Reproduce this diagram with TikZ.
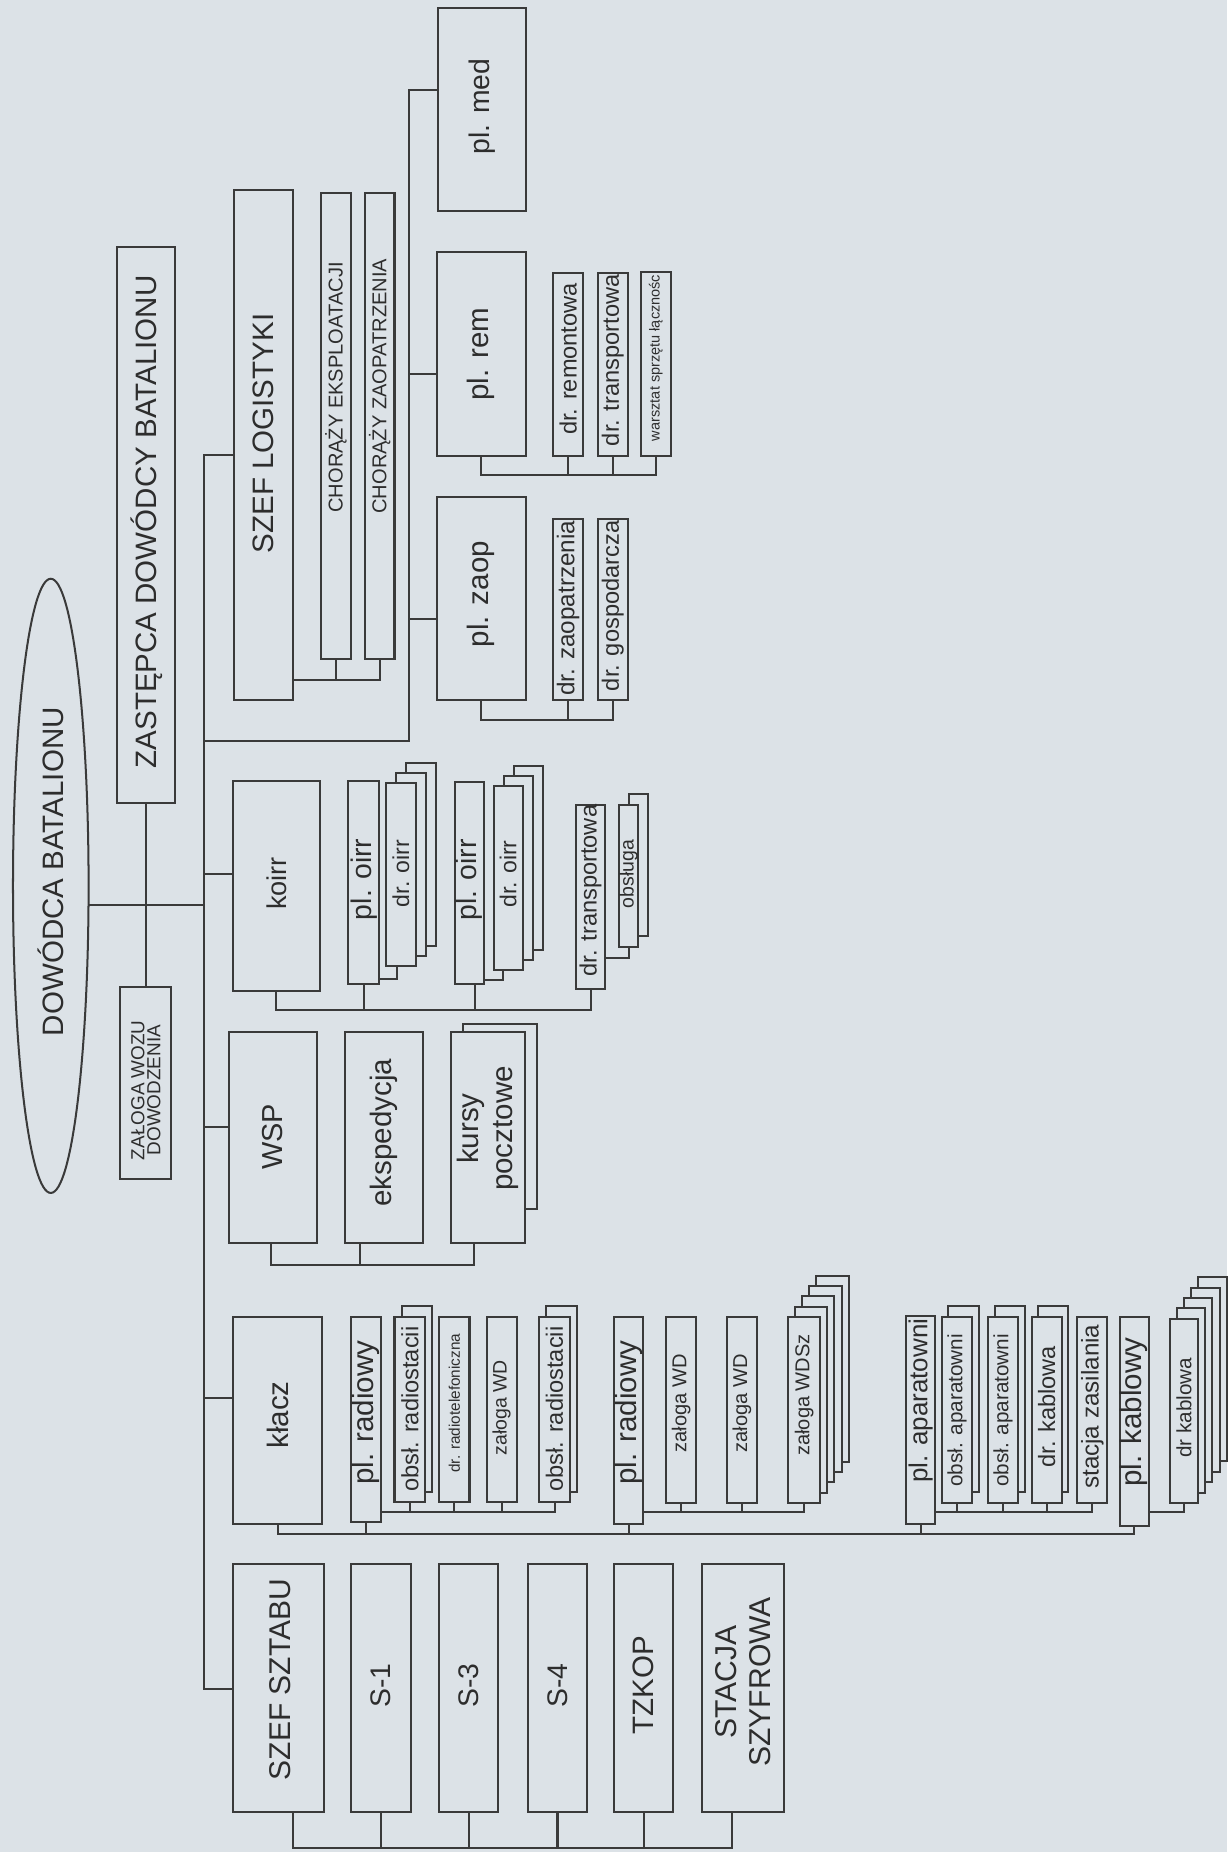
\documentclass[tikz,border=0pt]{standalone}
\usepackage{fontspec}
\setmainfont{Liberation Sans}
\usetikzlibrary{shapes.geometric}
\definecolor{bg}{RGB}{220,226,231}
\definecolor{ink}{RGB}{58,58,58}
\definecolor{txt}{RGB}{45,45,45}
\tikzset{
  ln/.style={draw=ink,line width=1.7pt,line cap=rect},
  bx/.style={draw=ink,line width=1.7pt,fill=bg,rectangle,inner sep=0pt,outer sep=0pt},
  bxl/.style={draw=ink,line width=1.7pt,fill=bg},
  tx/.style={text=txt,inner sep=0pt,align=center},
  ellbox/.style={draw=ink,line width=1.7pt,ellipse,inner sep=0pt,outer sep=0pt}
}
\newcommand\obox[5]{\node[bx, minimum width={(#4)-(#2)}, minimum height={(#5)-(#3)}] (#1) at ({((#2)+(#4))/2},{((#3)+(#5))/2}) {};}
\newcommand\otx[6]{\node[tx, rotate=90, font=\fontsize{#4}{#5}\selectfont] (#1) at (#2,#3) {#6};}
\newcommand\ostk[8]{%
  \foreach \k in {#6,...,1}{\draw[bxl] ({(#2)+\k*(#7)},{(#3)-\k*(#8)}) rectangle ({(#4)+\k*(#7)},{(#5)-\k*(#8)});}
  \obox{#1}{#2}{#3}{#4}{#5}}
\begin{document}
\begin{tikzpicture}[x=1pt,y=-1pt]
\fill[bg] (0,0) rectangle (1039,1568);
\useasboundingbox (0,0) rectangle (1039,1568);

% ---- top level
\node[ellbox, minimum width=64, minimum height=520] (ell) at (43,750) {};
\otx{t-ell}{43}{738}{25}{30}{DOWÓDCA BATALIONU}
\obox{zast}{99}{209}{148}{680}
\otx{t-zast}{124}{442}{25}{30}{ZASTĘPCA DOWÓDCY BATALIONU}
\obox{zalo}{102}{836}{145}{998}
\otx{t-zalo}{123.5}{923}{16}{13.5}{ZAŁOGA WOZU\\DOWODZENIA}

% ---- logistics
\obox{szeflog}{198}{161}{248}{593}
\otx{t-szeflog}{223}{367}{25}{30}{SZEF LOGISTYKI}
\obox{chore}{272}{163}{297}{558}
\otx{t-chore}{284.5}{328}{17}{20}{CHORĄŻY EKSPLOATACJI}
\obox{chorz}{309}{163}{334}{558}
\otx{t-chorz}{321.5}{327}{17}{20}{CHORĄŻY ZAOPATRZENIA}
\obox{plmed}{371}{7}{445}{179}
\otx{t-plmed}{408}{90}{24}{28}{pl. med}
\obox{plrem}{370}{213}{445}{386}
\otx{t-plrem}{407.5}{300}{25}{30}{pl. rem}
\obox{plzaop}{370}{421}{445}{593}
\otx{t-plzaop}{407.5}{503}{25}{30}{pl. zaop}
\obox{drrem}{468.5}{231}{493.5}{386}
\otx{t-drrem}{481}{304}{20}{24}{dr. remontowa}
\obox{drtra}{506}{231}{531.5}{386}
\otx{t-drtra}{518.75}{305}{20}{24}{dr. transportowa}
\obox{warsz}{542.5}{230}{568}{386}
\otx{t-warsz}{555.25}{303}{12.3}{15}{warsztat sprzętu łącznośc}
\obox{drzaop}{468.5}{439}{493.5}{593}
\otx{t-drzaop}{481}{515}{20.5}{24}{dr. zaopatrzenia}
\obox{drgosp}{506}{439}{531.5}{593}
\otx{t-drgosp}{518.75}{513}{20}{24}{dr. gospodarcza}

% ---- koirr
\obox{koirr}{197}{661}{271}{839}
\otx{t-koirr}{234}{748}{23}{28}{koirr}
\obox{poirr1}{295}{661}{321}{833.5}
\otx{t-poirr1}{308}{744.5}{24}{28}{pl. oirr}
\ostk{droirr1}{327}{663}{352}{818}{2}{8.5}{8.5}
\otx{t-droirr1}{339.5}{739.5}{19.5}{24}{dr. oirr}
\obox{poirr2}{385}{662}{410}{833.5}
\otx{t-poirr2}{397.5}{745}{24}{28}{pl. oirr}
\ostk{droirr2}{418}{665.5}{442.5}{821}{2}{8.5}{8.5}
\otx{t-droirr2}{430.25}{740}{19.5}{24}{dr. oirr}
\obox{drtrk}{487.5}{681.5}{512.5}{837}
\otx{t-drtrk}{500}{754}{20}{24}{dr. transportowa}
\ostk{obsl}{524}{681.5}{540.5}{801.5}{1}{8.2}{9}
\otx{t-obsl}{532.25}{740}{16.5}{20}{obsługa}

% ---- WSP
\obox{wsp}{193.5}{874}{268}{1052}
\otx{t-wsp}{231}{962.5}{24.5}{28}{WSP}
\obox{eksp}{292}{874}{358}{1052}
\otx{t-eksp}{325}{959}{25}{30}{ekspedycja}
\draw[bxl] (392,867) rectangle (454.5,1024);
\obox{kursy}{381.5}{874}{444.5}{1052}
\otx{t-kursy}{413}{955.5}{25}{29}{kursy\\pocztowe}

% ---- klacz
\obox{klacz}{197.5}{1115}{273}{1290}
\otx{t-klacz}{235}{1198}{25}{30}{kłacz}
\obox{prad1}{297}{1115}{322.5}{1289}
\otx{t-prad1}{309.75}{1196}{25}{30}{pl. radiowy}
\ostk{obsr1}{334}{1115}{360}{1272}{1}{6}{9}
\otx{t-obsr1}{347}{1193}{20}{24}{obsł. radiostacii}
\obox{drradio}{372}{1115}{397.5}{1272}
\otx{t-drradio}{384.75}{1188}{13}{16}{dr. radiotelefoniczna}
\obox{zal1}{412}{1115}{437.5}{1272}
\otx{t-zal1}{424.75}{1192}{16.5}{20}{załoga WD}
\ostk{obsr2}{456.5}{1115}{482.5}{1272}{1}{6}{9}
\otx{t-obsr2}{469.5}{1193}{20}{24}{obsł. radiostacii}
\obox{prad2}{520}{1115}{544.5}{1290}
\otx{t-prad2}{532.25}{1196}{25}{30}{pl. radiowy}
\obox{zal2}{564}{1115}{589.5}{1272.5}
\otx{t-zal2}{576.75}{1188}{17}{20}{załoga WD}
\obox{zal3}{615.5}{1115}{641}{1272.5}
\otx{t-zal3}{628.25}{1188}{17}{20}{załoga WD}
\ostk{wdsz}{667}{1115}{694.5}{1272.5}{4}{6}{8.7}
\otx{t-wdsz}{680.75}{1181}{17}{20}{załoga WDSz}
\obox{papar}{767}{1114}{792}{1290}
\otx{t-papar}{779.5}{1186}{22}{26}{pl. aparatowni}
\ostk{oap1}{797.5}{1115}{823}{1272.5}{1}{5.5}{9.5}
\otx{t-oap1}{810.25}{1194}{17.5}{21}{obsł. aparatowni}
\ostk{oap2}{836.5}{1115}{862}{1272.5}{1}{5.5}{9.5}
\otx{t-oap2}{849.25}{1194}{17.5}{21}{obsł. aparatowni}
\ostk{drkab1}{873.5}{1115}{899}{1272.5}{1}{5.5}{9.5}
\otx{t-drkab1}{886.25}{1191}{20}{24}{dr. kablowa}
\obox{stzas}{912}{1115}{937.5}{1272.5}
\otx{t-stzas}{924.75}{1191}{20.5}{24}{stacja zasilania}
\obox{pkab}{948}{1115}{972.5}{1292}
\otx{t-pkab}{960.25}{1195.5}{25}{30}{pl. kablowy}
\ostk{drkab2}{990.5}{1116.5}{1014.5}{1272.5}{4}{6}{8.8}
\otx{t-drkab2}{1002.5}{1192}{17.5}{21}{dr kablowa}

% ---- staff
\obox{szefsz}{197.5}{1324}{274}{1534}
\otx{t-szefsz}{237}{1422}{25.4}{30}{SZEF SZTABU}
\obox{s1}{297}{1324}{348}{1534}
\otx{t-s1}{322.5}{1427}{24}{28}{S-1}
\obox{s3}{372}{1324}{422}{1534}
\otx{t-s3}{397}{1427}{24}{28}{S-3}
\obox{s4}{447}{1324}{497}{1534}
\otx{t-s4}{472}{1427}{24}{28}{S-4}
\obox{tzkop}{520}{1324}{570}{1534}
\otx{t-tzkop}{545}{1427}{25}{30}{TZKOP}
\obox{stacja}{594}{1324}{664}{1534}
\otx{t-stacja}{629}{1424}{25.5}{28.5}{STACJA\\SZYFROWA}

% ---- main spine
\coordinate (mvtop) at (173,385);
\coordinate (mvpl) at (173,627);
\coordinate (mvkoirr) at (173,740);
\coordinate (mvell) at (173,766);
\coordinate (mvwsp) at (173,954);
\coordinate (mvklacz) at (173,1184);
\coordinate (mvbot) at (173,1430);
\draw[ln] (mvtop) -- (mvbot);
\draw[ln] (mvtop) -- (mvtop -| szeflog.west);
\draw[ln] (mvkoirr) -- (mvkoirr -| koirr.west);
\draw[ln] (mvell) -- (mvell -| ell.east);
\draw[ln] (mvwsp) -- (mvwsp -| wsp.west);
\draw[ln] (mvklacz) -- (mvklacz -| klacz.west);
\draw[ln] (mvbot) -- (mvbot -| szefsz.west);
\draw[ln] (zast.south) -- (zalo.north);

% ---- logistics connectors
\coordinate (pbtop) at (346.5,76);
\coordinate (pbrem) at (346.5,316.5);
\coordinate (pbzaop) at (346.5,524);
\coordinate (pbbot) at (346.5,627);
\draw[ln] (mvpl) -- (pbbot) -- (pbtop) -- (pbtop -| plmed.west);
\draw[ln] (pbrem) -- (pbrem -| plrem.west);
\draw[ln] (pbzaop) -- (pbzaop -| plzaop.west);
\coordinate (chbus) at (248,575.5);
\draw[ln] (chbus) -| (chorz.south);
\draw[ln] (chore.south) -- (chore.south |- chbus);
\coordinate (rembus) at (0,402.5);
\draw[ln] (plrem.south) |- (warsz.south |- rembus) -- (warsz.south);
\draw[ln] (drrem.south) -- (drrem.south |- rembus);
\draw[ln] (drtra.south) -- (drtra.south |- rembus);
\coordinate (zaopbus) at (0,609.5);
\draw[ln] (plzaop.south) |- (drgosp.south |- zaopbus) -- (drgosp.south);
\draw[ln] (drzaop.south) -- (drzaop.south |- zaopbus);

% ---- koirr connectors
\coordinate (kobus) at (0,855.5);
\draw[ln] (koirr.south) |- (drtrk.south |- kobus) -- (drtrk.south);
\draw[ln] (poirr1.south) -- (poirr1.south |- kobus);
\draw[ln] ([xshift=4.5pt]poirr2.south) -- ([xshift=4.5pt]poirr2.south |- kobus);
\coordinate (o1) at (0,828.5);
\draw[ln] (poirr1.east |- o1) -| ([xshift=-3.7pt]droirr1.south);
\coordinate (o2) at (0,830);
\draw[ln] (poirr2.east |- o2) -| ([xshift=-4pt]droirr2.south);
\coordinate (o3) at (0,811.5);
\draw[ln] (drtrk.east |- o3) -| (obsl.south);

% ---- WSP connectors
\coordinate (wbus) at (0,1071);
\draw[ln] ([xshift=-1.3pt]wsp.south) |- ([xshift=-12pt]kursy.south |- wbus) -- ([xshift=-12pt]kursy.south);
\draw[ln] ([xshift=-20.5pt]eksp.south) -- ([xshift=-20.5pt]eksp.south |- wbus);

% ---- klacz connectors
\coordinate (kbus) at (0,1298.5);
\draw[ln] (klacz.south) |- (pkab.south |- kbus) -- (pkab.south);
\foreach \n in {prad1,prad2,papar} \draw[ln] (\n.south) -- (\n.south |- kbus);
\coordinate (sbus) at (0,1280.5);
\draw[ln] (prad1.east |- sbus) -| (obsr2.south);
\foreach \n in {obsr1,drradio,zal1} \draw[ln] (\n.south) -- (\n.south |- sbus);
\draw[ln] (prad2.east |- sbus) -| (wdsz.south);
\foreach \n in {zal2,zal3} \draw[ln] (\n.south) -- (\n.south |- sbus);
\draw[ln] (papar.east |- sbus) -| (stzas.south);
\foreach \n in {oap1,oap2,drkab1} \draw[ln] (\n.south) -- (\n.south |- sbus);
\draw[ln] (pkab.east |- sbus) -| (drkab2.south);

% ---- staff connectors
\coordinate (bbus) at (0,1565);
\draw[ln] ([xshift=12pt]szefsz.south) |- ([xshift=-9pt]stacja.south |- bbus) -- ([xshift=-9pt]stacja.south);
\foreach \n in {s1,s3,s4,tzkop} \draw[ln] (\n.south) -- (\n.south |- bbus);
\end{tikzpicture}
\end{document}
